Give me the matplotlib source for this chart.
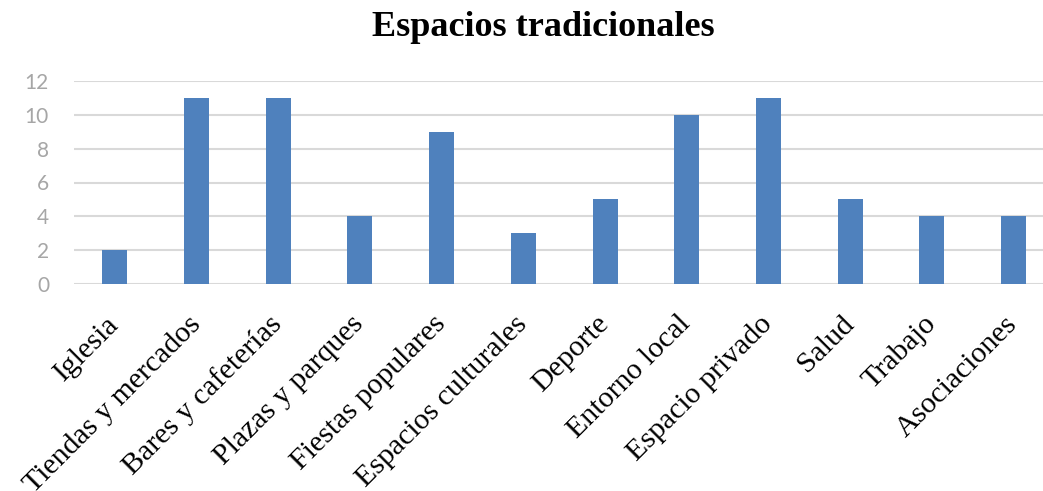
import numpy as np
import matplotlib.pyplot as plt

categories = ['Iglesia', 'Tiendas y mercados', 'Bares y cafeterías', 'Plazas y parques',
              'Fiestas populares', 'Espacios culturales', 'Deporte', 'Entorno local',
              'Espacio privado', 'Salud', 'Trabajo', 'Asociaciones']
values = [2, 11, 11, 4, 9, 3, 5, 10, 11, 5, 4, 4]
yticks = [0, 2, 4, 6, 8, 10, 12]

fig = plt.figure(figsize=(10.43, 4.91), dpi=100)
ax = fig.add_axes([74/1043, 1 - 284/491, 1 - 74/1043, (284 - 81)/491])

x = np.arange(len(categories))
ax.bar(x, values, width=0.306, color='#4f81bd', zorder=3)

ax.set_ylim(0, 12)
ax.set_xlim(-0.5, 11.36)
ax.set_yticks(yticks)
ax.grid(axis='y', color='#d9d9d9', linewidth=1.5, zorder=0)
for s in ax.spines.values():
    s.set_visible(False)
ax.tick_params(axis='both', length=0)
ax.tick_params(axis='y', pad=18, labelcolor='#a6a6a6', labelsize=15)
for lab in ax.get_yticklabels():
    lab.set_fontfamily('Lato')

ax.set_xticks(x)
ax.set_xticklabels(categories, rotation=45, ha='right', va='center',
                   rotation_mode='anchor', fontsize=21.5, fontfamily='Liberation Serif')
ax.tick_params(axis='x', pad=26)

fig.text(543/1043, 1 - 28/491, 'Espacios tradicionales', ha='center', va='center',
         fontsize=26, fontweight='bold', fontfamily='Liberation Serif')

fig.savefig('out.png', dpi=100)
